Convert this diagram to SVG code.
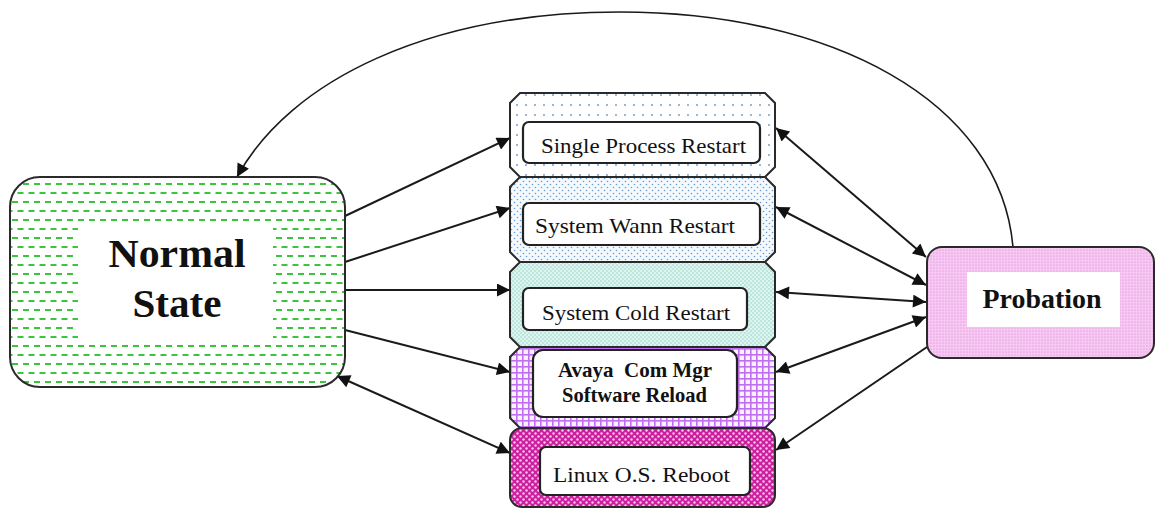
<svg xmlns="http://www.w3.org/2000/svg" width="1157" height="513" viewBox="0 0 1157 513">
<style>
.edge{stroke:#1a1a1a;stroke-width:2;fill:none}
.thin{stroke-width:1.6}
.frame{stroke:#2a2a2a;stroke-width:2}
.inner{fill:#fff;stroke:#222;stroke-width:2.2}
.lbl{font-family:"Liberation Serif","Times New Roman",serif;font-size:21px;fill:#111}
.big{font-family:"Liberation Serif","Times New Roman",serif;font-weight:bold;fill:#111}
</style>
<defs>
<marker id="ah" viewBox="0 0 10 10" refX="10" refY="5" markerWidth="17" markerHeight="13" markerUnits="userSpaceOnUse" orient="auto-start-reverse">
<path d="M0,0 L10,5 L0,10 z" fill="#111"/>
</marker>
<pattern id="pGreen" width="11" height="18" patternUnits="userSpaceOnUse">
<rect width="11" height="18" fill="#fff"/>
<rect x="1" y="3" width="6" height="2" fill="#3cc43c"/>
<rect x="6.5" y="12" width="6" height="2" fill="#3cc43c"/>
<rect x="-4.5" y="12" width="6" height="2" fill="#3cc43c"/>
</pattern>
<pattern id="pDot1" width="9" height="10" patternUnits="userSpaceOnUse">
<rect width="9" height="10" fill="#fff"/>
<circle cx="4" cy="5" r="0.9" fill="#6a92c8"/>
</pattern>
<pattern id="pDot2" width="6" height="6" patternUnits="userSpaceOnUse">
<rect width="6" height="6" fill="#f4f9fd"/>
<circle cx="1.5" cy="1.5" r="0.8" fill="#6a9ad0"/>
<circle cx="4.5" cy="4.5" r="0.8" fill="#6a9ad0"/>
</pattern>
<pattern id="pCyan" width="4" height="4" patternUnits="userSpaceOnUse">
<rect width="4" height="4" fill="#dcf5f0"/>
<circle cx="1" cy="1" r="0.75" fill="#8fcfc0"/>
<circle cx="3" cy="3" r="0.75" fill="#8fcfc0"/>
</pattern>
<pattern id="pGrid" width="6" height="6" patternUnits="userSpaceOnUse">
<rect width="6" height="6" fill="#fbf0ff"/>
<rect x="0" y="0" width="6" height="1.6" fill="#c070ee"/>
<rect x="0" y="0" width="1.6" height="6" fill="#c070ee"/>
</pattern>
<pattern id="pMag" width="6" height="6" patternUnits="userSpaceOnUse">
<rect width="6" height="6" fill="#cc1fa0"/>
<circle cx="1.5" cy="1.5" r="1.2" fill="#f6c9ea"/>
<circle cx="4.5" cy="4.5" r="1.2" fill="#f6c9ea"/>
</pattern>
<pattern id="pPink" width="3" height="3" patternUnits="userSpaceOnUse">
<rect width="3" height="3" fill="#f7c8f2"/>
<circle cx="1" cy="1" r="0.6" fill="#d680d4"/>
</pattern>
</defs>

<g id="connectors">
<path class="edge thin" d="M1013,247 C1000,100 830,12 620,12 C430,12 290,80 237,177" marker-end="url(#ah)"/>
<line class="edge" x1="345" y1="216" x2="510" y2="138" marker-end="url(#ah)"/>
<line class="edge" x1="345" y1="262" x2="510" y2="208" marker-end="url(#ah)"/>
<line class="edge" x1="345" y1="290" x2="510" y2="290" marker-end="url(#ah)"/>
<line class="edge" x1="345" y1="330" x2="510" y2="372" marker-end="url(#ah)"/>
<line class="edge" x1="337" y1="376" x2="510" y2="453" marker-start="url(#ah)" marker-end="url(#ah)"/>
<line class="edge" x1="776" y1="128" x2="926" y2="257" marker-start="url(#ah)" marker-end="url(#ah)"/>
<line class="edge" x1="776" y1="207" x2="926" y2="285" marker-start="url(#ah)" marker-end="url(#ah)"/>
<line class="edge" x1="776" y1="292" x2="926" y2="302" marker-start="url(#ah)" marker-end="url(#ah)"/>
<line class="edge" x1="776" y1="372" x2="926" y2="317" marker-start="url(#ah)" marker-end="url(#ah)"/>
<line class="edge" x1="927" y1="347" x2="776" y2="450" marker-end="url(#ah)"/>
</g>

<g id="normal">
<rect class="frame" x="10" y="177" width="335" height="210" rx="30" fill="url(#pGreen)"/>
<rect x="78" y="223" width="195" height="115" fill="#fff"/>
<text class="big" x="177" y="267" font-size="40" text-anchor="middle" textLength="137" lengthAdjust="spacingAndGlyphs">Normal</text>
<text class="big" x="177" y="317" font-size="40" text-anchor="middle" textLength="89" lengthAdjust="spacingAndGlyphs">State</text>
</g>

<g id="single">
<path class="frame" fill="url(#pDot1)" d="M520,93 L765,93 L775,103 L775,167 L765,177 L520,177 L510,167 L510,103 Z"/>
<rect class="inner" x="523" y="122" width="237" height="41" rx="6"/>
<text class="lbl" x="541" y="153" textLength="205" lengthAdjust="spacingAndGlyphs">Single Process Restart</text>
</g>

<g id="warm">
<path class="frame" fill="url(#pDot2)" d="M520,177 L765,177 L775,187 L775,252 L765,262 L520,262 L510,252 L510,187 Z"/>
<rect class="inner" x="523" y="203" width="237" height="42" rx="6"/>
<text class="lbl" x="535" y="233" textLength="200" lengthAdjust="spacingAndGlyphs">System Wann Restart</text>
</g>

<g id="cold">
<path class="frame" fill="url(#pCyan)" d="M520,262 L765,262 L775,272 L775,337 L765,347 L520,347 L510,337 L510,272 Z"/>
<rect class="inner" x="523" y="288" width="224" height="42" rx="6"/>
<text class="lbl" x="542" y="320" textLength="188" lengthAdjust="spacingAndGlyphs">System Cold Restart</text>
</g>

<g id="avaya">
<path class="frame" fill="url(#pGrid)" d="M520,347 L765,347 L775,357 L775,418 L765,428 L520,428 L510,418 L510,357 Z"/>
<rect class="inner" x="533" y="350" width="204" height="67" rx="10" stroke-width="1.6"/>
<text class="lbl" x="558" y="377" font-weight="bold" font-size="20" textLength="154" lengthAdjust="spacingAndGlyphs" xml:space="preserve">Avaya  Com Mgr</text>
<text class="lbl" x="562" y="402" font-weight="bold" font-size="20" textLength="145" lengthAdjust="spacingAndGlyphs">Software Reload</text>
</g>

<g id="linux">
<rect class="frame" x="510" y="428" width="265" height="79" rx="12" fill="url(#pMag)"/>
<rect class="inner" x="540" y="447" width="210" height="48" rx="6"/>
<text class="lbl" x="553" y="482" textLength="177" lengthAdjust="spacingAndGlyphs">Linux O.S. Reboot</text>
</g>

<g id="probation">
<rect class="frame" x="927" y="247" width="227" height="111" rx="15" fill="url(#pPink)"/>
<rect x="967" y="272" width="153" height="55" fill="#fff"/>
<text class="big" x="1042" y="308" font-size="27" text-anchor="middle" textLength="119" lengthAdjust="spacingAndGlyphs">Probation</text>
</g>
</svg>
